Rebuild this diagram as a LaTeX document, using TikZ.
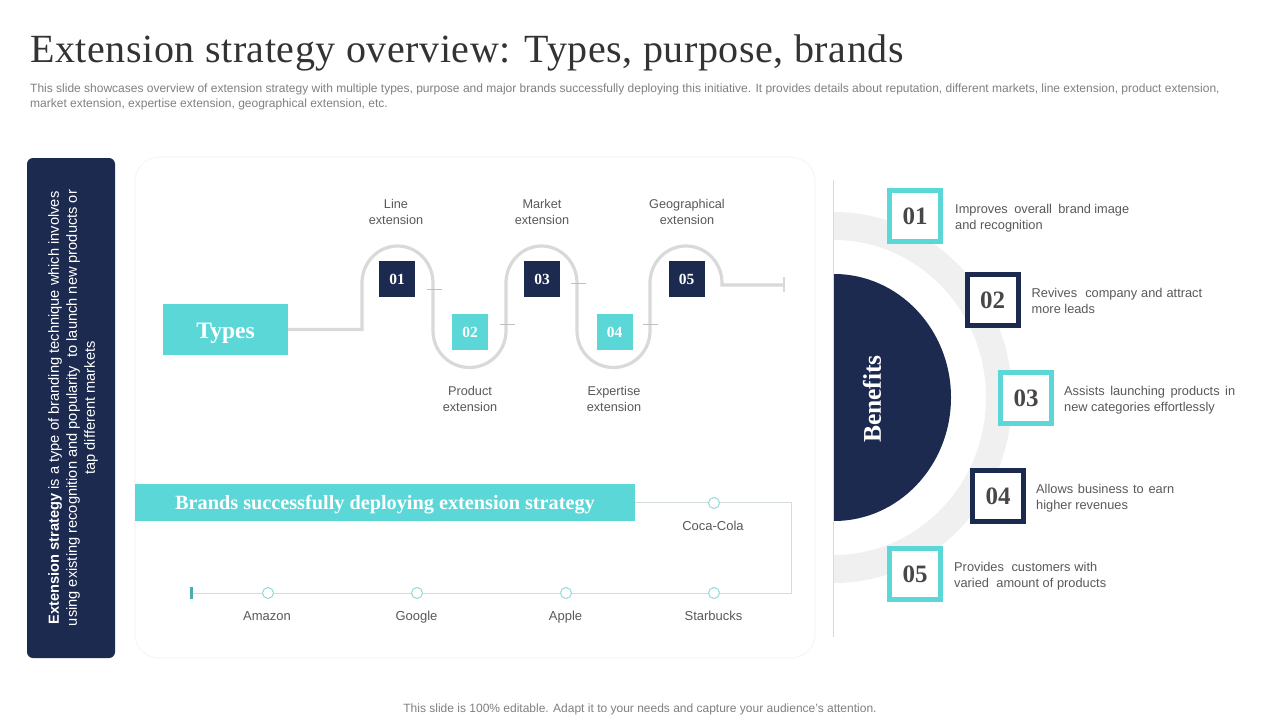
\documentclass[tikz,border=0pt]{standalone}
\usepackage{fontspec}
\setmainfont{Liberation Sans}
\newfontfamily\serifb{Liberation Serif}
\newfontfamily\seriftitle[LetterSpace=1.4]{Liberation Serif}
\definecolor{navy}{HTML}{1B2A4E}
\definecolor{teal}{HTML}{5CD7D7}
\definecolor{txt}{HTML}{595959}
\definecolor{ltgray}{HTML}{D9D9D9}
\definecolor{ring}{HTML}{F0F0F0}
\definecolor{thinl}{HTML}{D5DCDC}
\newcommand{\fs}[2]{\fontsize{#1}{#2}\selectfont}
\tikzset{
  x=1pt,y=-1pt,
  lab/.style={text=txt,align=center,font=\fs{12.7}{16},inner sep=0},
  stepnum/.style={minimum width=36pt,minimum height=36pt,inner sep=0,text=white,font=\serifb\bfseries\fs{15.5}{16}},
  numbox/.style={draw=#1,fill=white,line width=5pt,minimum width=51pt,minimum height=51pt,inner sep=0,text=black!72,font=\serifb\bfseries\fs{25}{25}},
  benlab/.style={text=txt,align=left,anchor=west,font=\fs{12.8}{16},inner sep=0},
  dot/.style={circle,draw=teal!55!thinl,fill=white,line width=1pt,minimum size=11pt,inner sep=0},
  brand/.style={text=txt,anchor=base,font=\fs{13}{14},inner sep=0},
  snake/.style={draw=ltgray,line width=3.2pt},
  thin line/.style={draw=thinl,line width=1pt},
  gapmark/.style={draw=black!25,line width=.6pt}
}
\begin{document}
\begin{tikzpicture}
\useasboundingbox (0,0) rectangle (1280,720);
\fill[white] (0,0) rectangle (1280,720);
% title
\node[anchor=west,inner sep=0,text=black!80,font=\seriftitle\fs{40}{42}] (title) at (30,53) {Extension strategy overview: Types, purpose, brands};
\node[anchor=north west,inner sep=0,align=left,text=black!50,font=\fs{12}{15}] (desc) at (30,84) {This slide showcases overview of extension strategy with multiple types, purpose and major brands successfully deploying this initiative. It provides details about reputation, different markets, line extension, product extension,\\market extension, expertise extension, geographical extension, etc.};
\node[inner sep=0,text=black!50,font=\fs{12}{14}] (foot) at (640,709) {This slide is 100\% editable. Adapt it to your needs and capture your audience's attention.};
% left panel
\fill[navy,rounded corners=6pt] (27,158) rectangle (115,658);
\node[rotate=90,inner sep=0,align=center,text=white,font=\fs{14.64}{18}] (panel) at (73,408) {\textbf{Extension strategy} is a type of branding technique which involves\\using existing recognition and popularity\ \ to launch new products or\\tap different markets};
% card
\draw[draw=black!3,fill=white,line width=1.2pt,rounded corners=24pt] (135,157) rectangle (815,658);
% types
\node[fill=teal,minimum width=125pt,minimum height=51pt,inner sep=0,text=white,font=\serifb\bfseries\fs{23.5}{24}] (types) at (225.5,329.5) {\raisebox{-8.5pt}[0pt][0pt]{Types}};
\coordinate (tend) at (784,285);
\draw[snake] (types.east) -- (362,329.5) -- (362,283) arc[start angle=180,end angle=360,x radius=35.5,y radius=37] -- (433,331) arc[start angle=180,end angle=0,x radius=36.5,y radius=36.5] -- (506,283) arc[start angle=180,end angle=360,x radius=35.5,y radius=37] -- (577,331) arc[start angle=180,end angle=0,x radius=36.5,y radius=36.5] -- (650,283) arc[start angle=180,end angle=360,x radius=36,y radius=37] -- (722,285) -- (tend);
\draw[draw=ltgray,line width=2pt] (784,277) -- (784,292);
\foreach \p/\q in {427/289,500/324,571/283,643/324}{\draw[gapmark] (\p,\q) -- ++(15,0);}
\node[stepnum,fill=navy] (s1) at (397,279) {01};
\node[stepnum,fill=teal] (s2) at (470,332) {02};
\node[stepnum,fill=navy] (s3) at (542,279) {03};
\node[stepnum,fill=teal] (s4) at (614.5,332) {04};
\node[stepnum,fill=navy] (s5) at (686.5,279) {05};
\node[lab] (l1) at (396,212) {Line\\extension};
\node[lab] (l3) at (542,212) {Market\\extension};
\node[lab] (l5) at (687,212) {Geographical\\extension};
\node[lab] (l2) at (470,399) {Product\\extension};
\node[lab] (l4) at (614,399) {Expertise\\extension};
% brands
\node[fill=teal,minimum width=500pt,minimum height=37pt,inner sep=0,text=white,font=\serifb\bfseries\fs{20.25}{22}] (banner) at (385,502.5) {\raisebox{-6.5pt}[0pt][0pt]{Brands successfully deploying extension strategy}};
\coordinate (tick) at (191,593);
\draw[thin line] (banner.east) -- (791.5,502.5) -- (791.5,593) -- (tick);
\draw[draw=teal!80!black,line width=3pt] (191,587) -- (191,599);
\node[dot] (d0) at (714,503) {};
\node[dot] (d1) at (268,593) {};
\node[dot] (d2) at (417,593) {};
\node[dot] (d3) at (566,593) {};
\node[dot] (d4) at (714,593) {};
\node[brand] (b0) at (713,530) {Coca-Cola};
\node[brand] (b1) at (267,620) {Amazon};
\node[brand] (b2) at (416.5,620) {Google};
\node[brand] (b3) at (565.5,620) {Apple};
\node[brand] (b4) at (713.5,620) {Starbucks};
% benefits
\begin{scope}
\clip (833.5,150) rectangle (1100,650);
\fill[ring,even odd rule] (834,397.5) ellipse[x radius=178,y radius=185.5] (834,397.5) ellipse[x radius=152,y radius=157.5];
\fill[navy] (834,397.5) ellipse[x radius=117,y radius=123.5];
\end{scope}
\draw[draw=ltgray,line width=1pt] (833.5,180) -- (833.5,637);
\node[rotate=90,inner sep=0,text=white,font=\serifb\bfseries\fs{25.5}{28}] (ben) at (872,399) {Benefits};
\node[numbox=teal] (n1) at (915,216) {01};
\node[numbox=navy] (n2) at (992.5,300) {02};
\node[numbox=teal] (n3) at (1026,398) {03};
\node[numbox=navy] (n4) at (998,496) {04};
\node[numbox=teal] (n5) at (915,574) {05};
\node[benlab] (t1) at (955,218) {\makebox[174pt][s]{Improves\ \ overall\ \ brand image}\\and recognition};
\node[benlab] (t2) at (1031.5,300.5) {\makebox[170.5pt][s]{Revives\ \ company and attract}\\more leads};
\node[benlab] (t3) at (1064,400) {\makebox[171pt][s]{Assists launching products in}\\new categories effortlessly};
\node[benlab] (t4) at (1036,498) {\makebox[138pt][s]{Allows business to earn}\\higher revenues};
\node[benlab] (t5) at (954,576) {\makebox[143pt][s]{Provides\ \ customers with}\\\makebox[152pt][s]{varied\ \ amount of products}};
\end{tikzpicture}
\end{document}
